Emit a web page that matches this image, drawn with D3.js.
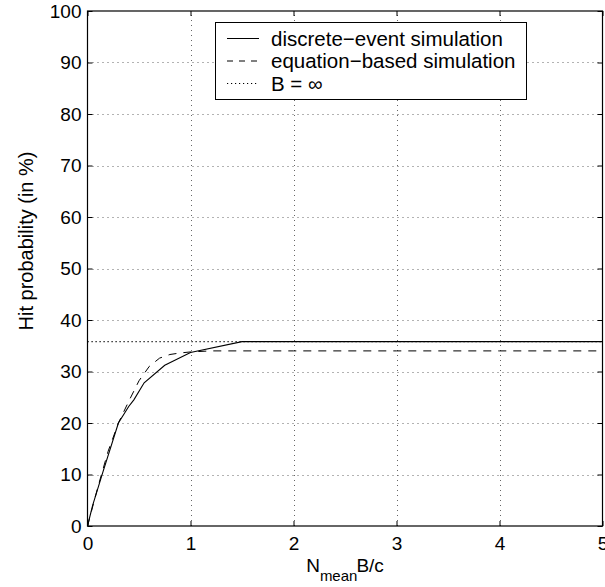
<!DOCTYPE html>
<html><head><meta charset="utf-8">
<script src="https://cdn.jsdelivr.net/npm/d3@7"></script>
<style>
html,body{margin:0;padding:0;background:#fff;}
svg{display:block;font-family:"Liberation Sans",Arial,Helvetica,sans-serif;}
</style></head>
<body>
<svg id="chart" width="605" height="587"></svg>
<script>
// ---- data ----
const xTicks = [0, 1, 2, 3, 4, 5];
const yTicks = [0, 10, 20, 30, 40, 50, 60, 70, 80, 90, 100];
const discreteX = [0, 0.05, 0.15, 0.3, 0.4, 0.45, 0.55, 0.75, 1, 1.5, 2, 3, 4, 5];
const discreteY = [0, 4, 10.5, 20, 23.2, 24.5, 27.8, 31.2, 33.7, 35.8, 35.8, 35.8, 35.8, 35.8];
const equationX = [0, 0.1, 0.2, 0.3, 0.4, 0.5, 0.6, 0.7, 0.8, 0.9, 1.0, 1.2, 1.5, 2, 3, 4, 5];
const equationY = [0, 7.5, 14.5, 20, 24.2, 28.2, 31, 32.6, 33.3, 33.6, 33.8, 34.0, 34.0, 34.0, 34.0, 34.0, 34.0];
const infiniteB = 35.8;
const legendLabels = ["discrete\u2212event simulation", "equation\u2212based simulation", "B = \u221e"];
const yLabel = "Hit probability (in %)";

// ---- layout ----
const L = 87.5, R = 602.5, T = 11, B = 526;
const fsTick = 19, fsLeg = 20.5, fsLab = 20;
const svg = d3.select("#chart");
const x = d3.scaleLinear().domain([0, 5]).range([L, R]);
const y = d3.scaleLinear().domain([0, 100]).range([B, T]);

// grid
const grid = svg.append("g").attr("stroke", "#666").attr("stroke-width", 1).attr("stroke-dasharray", "1,4");
grid.selectAll(".gx").data(xTicks.slice(1, -1)).join("line")
  .attr("x1", d => Math.round(x(d)) + 0.5).attr("x2", d => Math.round(x(d)) + 0.5)
  .attr("y1", B).attr("y2", T);
grid.selectAll(".gy").data(yTicks.slice(1, -1)).join("line")
  .attr("y1", d => Math.round(y(d)) + 0.5).attr("y2", d => Math.round(y(d)) + 0.5)
  .attr("x1", L).attr("x2", R);

// axes
const tk = 5;
const axB = svg.append("g").attr("transform", `translate(0,${B})`)
  .call(d3.axisBottom(x).tickValues(xTicks).tickSize(-tk).tickPadding(tk + 6).tickFormat(d3.format("d")));
const axT = svg.append("g").attr("transform", `translate(0,${T})`)
  .call(d3.axisTop(x).tickValues(xTicks).tickSize(-tk).tickFormat(""));
const axL = svg.append("g").attr("transform", `translate(${L},0)`)
  .call(d3.axisLeft(y).tickValues(yTicks).tickSize(-tk).tickPadding(tk + 1).tickFormat(d3.format("d")));
const axR = svg.append("g").attr("transform", `translate(${R},0)`)
  .call(d3.axisRight(y).tickValues(yTicks).tickSize(-tk).tickFormat(""));
[axB, axT, axL, axR].forEach(a => {
  a.select(".domain").remove();
  a.selectAll("line").attr("stroke", "#000");
  a.selectAll("text").attr("font-size", fsTick).attr("fill", "#000").attr("font-family", "'Liberation Sans',Arial,sans-serif");
});
svg.append("rect").attr("x", L).attr("y", T).attr("width", R - L).attr("height", B - T)
  .attr("fill", "none").attr("stroke", "#000").attr("stroke-width", 1.2);

// series
const line = d3.line().x(d => x(d[0])).y(d => y(d[1]));
svg.append("line").attr("x1", x(0)).attr("x2", x(5)).attr("y1", y(infiniteB)).attr("y2", y(infiniteB))
  .attr("stroke", "#000").attr("stroke-width", 1.2).attr("stroke-dasharray", "1.2,2.8");
svg.append("path").datum(equationX.map((v, i) => [v, equationY[i]])).attr("d", line)
  .attr("fill", "none").attr("stroke", "#000").attr("stroke-width", 1).attr("stroke-dasharray", "8,7");
svg.append("path").datum(discreteX.map((v, i) => [v, discreteY[i]])).attr("d", line)
  .attr("fill", "none").attr("stroke", "#000").attr("stroke-width", 1.1);

// legend
const lg = svg.append("g");
lg.append("rect").attr("x", 215.5).attr("y", 22.5).attr("width", 311).attr("height", 77)
  .attr("fill", "#fff").attr("stroke", "#000").attr("stroke-width", 1);
const dashes = [null, "6,6", "1.2,2.8"];
legendLabels.forEach((t, i) => {
  const yy = 38.5 + i * 22.5;
  lg.append("line").attr("x1", 227).attr("x2", 259).attr("y1", yy).attr("y2", yy)
    .attr("stroke", "#000").attr("stroke-width", 1).attr("stroke-dasharray", dashes[i]);
  lg.append("text").attr("x", 271).attr("y", yy).attr("dy", "0.35em").attr("font-size", fsLeg).text(t);
});

// axis labels
svg.append("text").attr("transform", `translate(33,241) rotate(-90)`)
  .attr("text-anchor", "middle").attr("font-size", fsLab).text(yLabel);
const xl = svg.append("text").attr("x", (L + R) / 2).attr("y", 572).attr("text-anchor", "middle").attr("font-size", fsTick);
xl.append("tspan").text("N");
xl.append("tspan").attr("font-size", 15).attr("dy", 9).text("mean");
xl.append("tspan").attr("dy", -9).attr("dx", -1).text("B/c");
</script>
</body></html>
